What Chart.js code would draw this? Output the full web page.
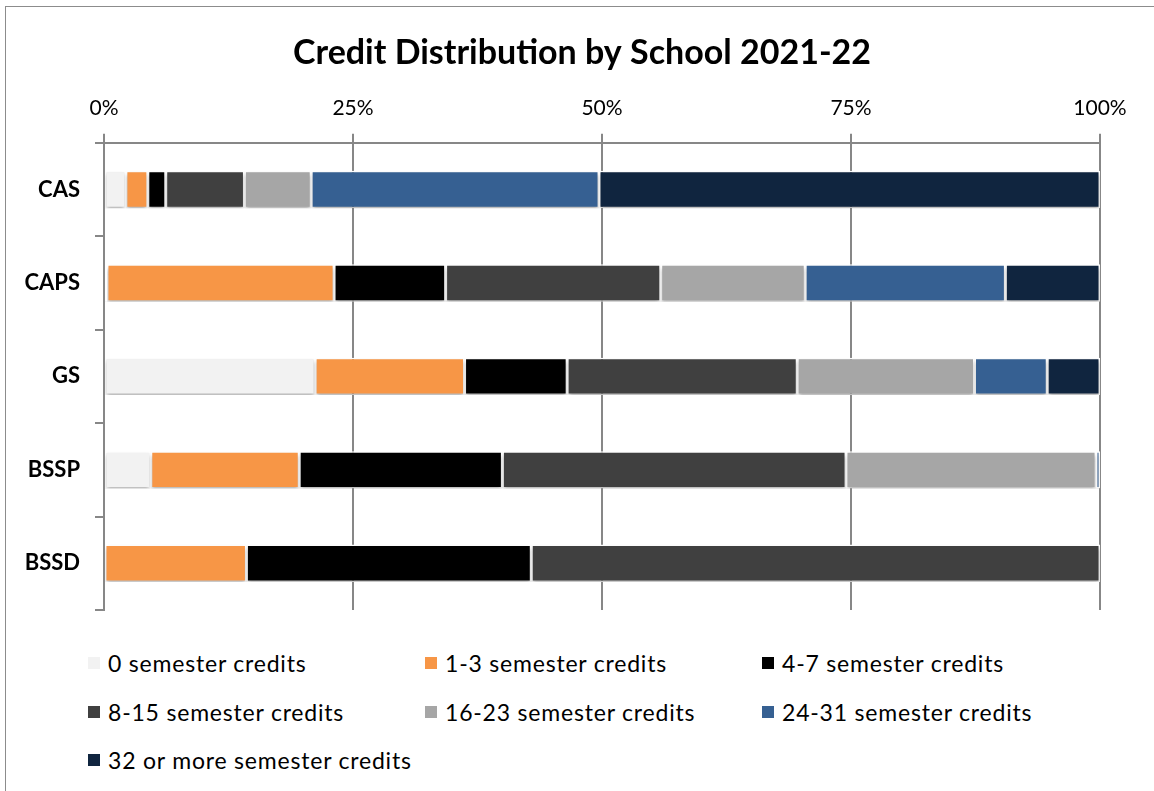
<!DOCTYPE html>
<html>
<head>
<meta charset="utf-8">
<script src="https://cdn.jsdelivr.net/npm/chart.js@4/dist/chart.umd.min.js"></script>
<style>
    html, body { margin: 0; padding: 0; background: #fff; }
    #frame {
        position: absolute; left: 5px; top: 6px; width: 1160px; height: 800px;
        border: 1px solid #8c8c8c; box-sizing: border-box;
    }
    #wrap { position: absolute; left: 0; top: 0; width: 1154px; height: 625px; }
    #legend {
        position: absolute; left: 88px; top: 644px;
        display: grid; grid-template-columns: 337px 337px 337px; grid-auto-rows: 48.5px;
        font-family: 'Lato', sans-serif; font-size: 23px; letter-spacing: 0.8px; color: #000;
    }
    .item { display: flex; align-items: center; height: 38px; }
    .box  { width: 12px; height: 12px; margin-right: 8px; }
</style>
</head>
<body>
<div id="frame"></div>
<div id="wrap"><canvas id="chart"></canvas></div>
<div id="legend"></div>
<script>
// --- data ---
const schools = ['CAS', 'CAPS', 'GS', 'BSSP', 'BSSD'];
const seriesNames = [
    '0 semester credits', '1-3 semester credits', '4-7 semester credits',
    '8-15 semester credits', '16-23 semester credits', '24-31 semester credits',
    '32 or more semester credits'
];
const credits0      = [2.2,  0.3, 21.2,  4.7,  0];
const credits1to3   = [2.2, 22.8, 15.0, 14.9, 14.3];
const credits4to7   = [1.8, 11.2, 10.3, 20.4, 28.6];
const credits8to15  = [7.9, 21.6, 23.1, 34.5, 57.1];
const credits16to23 = [6.7, 14.5, 17.8, 25.1, 0];
const credits24to31 = [28.9, 20.1, 7.3,  0.4, 0];
const credits32plus = [50.3,  9.5, 5.3,  0,   0];
const xTicks = [0, 25, 50, 75, 100];

const seriesValues = [credits0, credits1to3, credits4to7, credits8to15, credits16to23, credits24to31, credits32plus];
const colors = ['#f2f2f2', '#f79646', '#000000', '#404040', '#a6a6a6', '#366092', '#10253f'];

const gridGray = '#878787';
const fontFamily = "'Lato', sans-serif";

// y labels are drawn mirrored (no clipping) and pushed back left of the axis
const yFont = { family: fontFamily, size: 22, weight: 'bold' };
const mctx = document.createElement('canvas').getContext('2d');
mctx.font = `bold ${yFont.size}px ${fontFamily}`;
const widestLabel = Math.max(...schools.map(s => mctx.measureText(s).width));
const yLabelRight = 80;   // right edge of category labels
const yAxisX = 104;       // x position of the y axis line
const yLabelPad = yLabelRight - yAxisX - widestLabel;

const datasets = seriesNames.map((name, i) => ({
    label: name,
    data: seriesValues[i],
    backgroundColor: colors[i],
    borderColor: '#ffffff',
    borderWidth: 1.5,
    borderSkipped: false,
    barPercentage: 0.8,
    categoryPercentage: 0.5
}));

// soft shadow under the bars
const barShadow = {
    id: 'barShadow',
    beforeDatasetsDraw(chart) {
        const c = chart.ctx;
        c.save();
        c.shadowColor = 'rgba(0,0,0,0.28)';
        c.shadowBlur = 4;
        c.shadowOffsetX = 0;
        c.shadowOffsetY = 3;
    },
    afterDatasetsDraw(chart) {
        chart.ctx.restore();
    }
};

const ctx = document.getElementById('chart').getContext('2d');
const chart = new Chart(ctx, {
    type: 'bar',
    data: { labels: schools, datasets },
    plugins: [barShadow],
    options: {
        indexAxis: 'y',
        responsive: true,
        maintainAspectRatio: false,
        animation: false,
        layout: { padding: { top: 8, right: 54, bottom: 15, left: 64 } },
        plugins: {
            legend: { display: false },
            tooltip: { enabled: false },
            title: {
                display: true,
                text: 'Credit Distribution by School 2021-22',
                color: '#000',
                font: { family: fontFamily, size: 34, weight: 'bold', lineHeight: 1.2 },
                padding: { top: 25, bottom: 0 }
            }
        },
        scales: {
            x: {
                position: 'top',
                stacked: true,
                min: 0, max: 100,
                afterBuildTicks: (scale) => { scale.ticks = xTicks.map(v => ({ value: v })); },
                afterFit: (scale) => { scale.height = 69; },
                grid: { color: gridGray, lineWidth: 2, tickLength: 9, drawTicks: true },
                border: { display: true, color: gridGray, width: 2 },
                ticks: {
                    color: '#000',
                    padding: 13,
                    maxRotation: 0,
                    font: { family: fontFamily, size: 21 },
                    callback: (v) => v + '%'
                }
            },
            y: {
                stacked: true,
                afterFit: (scale) => { scale.width = yAxisX - 64; },
                grid: { drawOnChartArea: false, color: gridGray, lineWidth: 2, tickLength: 9 },
                border: { display: true, color: gridGray, width: 2 },
                ticks: {
                    color: '#000',
                    mirror: true,
                    crossAlign: 'far',
                    padding: yLabelPad,
                    font: yFont
                }
            }
        }
    }
});

// --- legend (3 columns) ---
const legendEl = document.getElementById('legend');
chart.data.datasets.forEach(ds => {
    const item = document.createElement('div');
    item.className = 'item';
    const box = document.createElement('span');
    box.className = 'box';
    box.style.background = ds.backgroundColor;
    const label = document.createElement('span');
    label.textContent = ds.label;
    item.appendChild(box);
    item.appendChild(label);
    legendEl.appendChild(item);
});
</script>
</body>
</html>
